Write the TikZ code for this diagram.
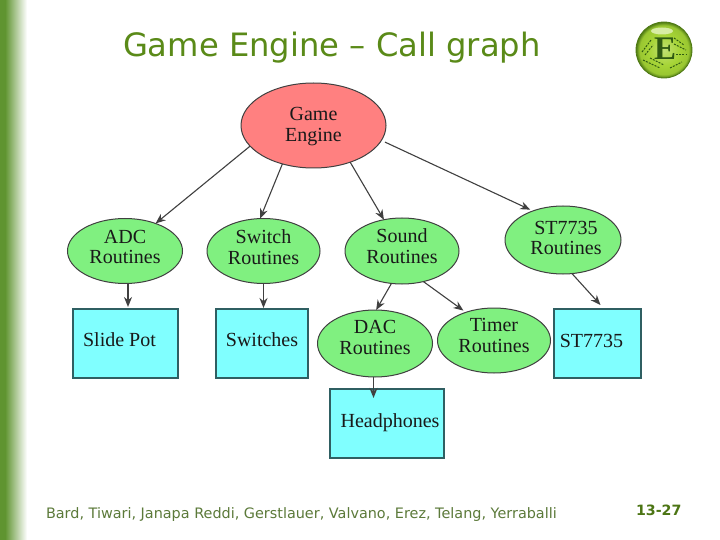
\documentclass[tikz,border=0pt]{standalone}
\usepackage{fontspec}
\setmainfont{DejaVu Sans}
\newfontfamily\nodefont{Liberation Serif}
\usetikzlibrary{shapes.geometric,arrows.meta,shadings,calc}
\definecolor{slidegreen}{HTML}{5F9430}
\definecolor{titlegreen}{HTML}{5A8A18}
\definecolor{footgreen}{HTML}{5C7A3A}
\definecolor{redfill}{HTML}{FF8080}
\definecolor{greenfill}{HTML}{80F080}
\definecolor{cyanfill}{HTML}{80FFFF}
\definecolor{edgeteal}{HTML}{2F5F62}
\definecolor{logogreen}{HTML}{A6D436}
\definecolor{logoedge}{HTML}{4F7A14}
\definecolor{logodark}{HTML}{2F5A12}
\pgfdeclareradialshading{logoball}{\pgfpoint{0pt}{0pt}}{%
  color(0pt)=(logogreen!70!white);color(14pt)=(logogreen);color(22pt)=(logogreen!85!logoedge);color(25pt)=(logoedge);color(50pt)=(logoedge)}
\tikzset{
  every node/.style={inner sep=0pt,outer sep=0pt},
  txt/.style={font=\nodefont\fontsize{20}{20.5}\selectfont,align=center,text=black!90},
  ell/.style={ellipse,draw=black!75,line width=1pt,txt},
  routine/.style={ell,fill=greenfill},
  top/.style={ell,fill=redfill,minimum width=145pt,minimum height=85pt},
  hw/.style={rectangle,draw=edgeteal,line width=1.2pt,fill=cyanfill,txt},
  conn/.style={draw=black!75,line width=1.1pt,-{Stealth[length=10pt,width=8pt]}},
  heavy/.style={conn,line width=1.7pt},
  titletext/.style={font=\fontsize{32.2}{38}\selectfont,text=titlegreen,anchor=base west},
  foot/.style={font=\fontsize{14.4}{17}\selectfont,text=footgreen,anchor=base west},
  pagetext/.style={font=\bfseries\fontsize{14.2}{17}\selectfont,text=titlegreen!85!black,anchor=base west},
  logomark/.style={draw=logodark,line width=1pt,dash pattern=on 2pt off 1.2pt}
}
\begin{document}
\begin{tikzpicture}[x=1pt,y=-1pt]
\useasboundingbox (0,0) rectangle (720,540);
\fill[white] (0,0) rectangle (720,540);
\fill[slidegreen] (0,0) rectangle (5,540);
\shade[left color=slidegreen,right color=white,shading=axis] (5,0) rectangle (27,540);
% title and footer
\node[titletext] (title) at (123,57) {Game Engine – Call graph};
\node[foot] (footer) at (46,518) {Bard, Tiwari, Janapa Reddi, Gerstlauer, Valvano, Erez, Telang, Yerraballi};
\node[pagetext] (pageno) at (636,515) {13-27};
% logo
\shade[shading=logoball,draw=logoedge,line width=0.8pt] (664,50) circle (28);
\fill[logogreen!45!white] (662,31) ellipse (11 and 3.5);
\draw[logomark] (642,52) -- (651,40);
\draw[logomark] (645,55) -- (653,45);
\draw[logomark] (674,38) -- (684,45);
\draw[logomark] (674,44) -- (686,50);
\draw[logomark] (676,55) -- (687,55);
\draw[logomark] (643,60) -- (660,68);
\draw[logomark] (650,58) -- (664,65);
\draw[logomark] (670,68) -- (682,62);
\node[font=\nodefont\bfseries\fontsize{33}{33}\selectfont,text=logodark] (logoE) at (665,49) {E};
% graph nodes
\node[top,label={[txt,yshift=-1pt]center:{Game\\Engine}}] (game) at (313.5,125.5) {};
\node[routine,minimum width=115pt,minimum height=65pt,label={[txt,yshift=4pt]center:{ADC\\Routines}}] (adc) at (125,251) {};
\node[routine,minimum width=113pt,minimum height=65pt,label={[txt,yshift=4pt]center:{Switch\\Routines}}] (switch) at (263.5,251) {};
\node[routine,minimum width=114pt,minimum height=66pt,label={[txt,yshift=5pt]center:{Sound\\Routines}}] (sound) at (402,251) {};
\node[routine,minimum width=116pt,minimum height=68pt,label={[txt,yshift=2pt,xshift=3pt]center:{ST7735\\Routines}}] (st) at (563,240) {};
\node[routine,minimum width=115pt,minimum height=67pt,label={[txt,yshift=6pt]center:{DAC\\Routines}}] (dac) at (375,343.5) {};
\node[routine,minimum width=113pt,minimum height=65pt,label={[txt,yshift=5pt]center:{Timer\\Routines}}] (timer) at (494,340.5) {};
\node[hw,minimum width=105pt,minimum height=69pt,label={[txt,xshift=-6pt,yshift=4pt]center:Slide Pot}] (slide) at (125.5,343.5) {};
\node[hw,minimum width=92pt,minimum height=69pt,label={[txt,yshift=4pt]center:Switches}] (switches) at (262,343.5) {};
\node[hw,minimum width=87pt,minimum height=69pt,label={[txt,xshift=-6pt,yshift=3pt]center:ST7735}] (lcd) at (597.5,343.5) {};
\node[hw,minimum width=114pt,minimum height=69pt,label={[txt,xshift=3pt,yshift=1pt]center:Headphones}] (head) at (387,423.5) {};
% connectors
\draw[conn] (game.198) -- (adc.42);
\draw[conn] (game.231) -- (switch.96);
\draw[conn] (game.315) -- (sound.120);
\draw[conn,shorten >=3pt] ($(game.347)+(4,1)$) -- (st.136);
\draw[heavy] ($(adc.south)+(3,0)$) -- ($(slide.north)+(2.5,-2)$);
\draw[heavy] (switch.south) -- ($(switches.north)+(1.5,-1)$);
\draw[conn] (sound.252) -- (dac.88);
\draw[conn,shorten >=3pt] (sound.305) -- (timer.135);
\draw[conn] (st.285) -- ($(lcd.north)+(3,-4)$);
\draw[heavy] ($(dac.south)+(-1.5,0)$) -- ($(head.north)+(-13.5,9)$);
\end{tikzpicture}
\end{document}
